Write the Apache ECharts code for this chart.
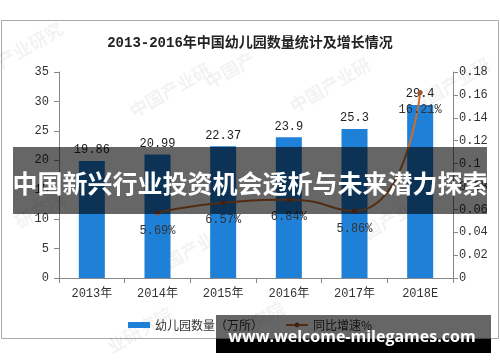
<!DOCTYPE html>
<html><head><meta charset="utf-8">
<script src="https://cdn.jsdelivr.net/npm/echarts@6/dist/echarts.min.js"></script>
<style>html,body{margin:0;padding:0;background:#fff}#c{width:500px;height:362px}</style>
</head><body><div id="c"></div>
<script>
const titleText = '2013-2016年中国幼儿园数量统计及增长情况';
const categories = ['2013年','2014年','2015年','2016年','2017年','2018E'];
const kindergartens = [19.86, 20.99, 22.37, 23.9, 25.3, 29.4];
const growthRate = [null, 0.0569, 0.0657, 0.0684, 0.0586, 0.1621];
const leftTicks = {min:0, max:35, interval:5};
const rightTicks = {min:0, max:0.18, interval:0.02};
const seriesNames = ['幼儿园数量（万所）','同比增速%'];
const bannerText = '中国新兴行业投资机会透析与未来潜力探索';
const footerText = 'www.welcome-milegames.com';
const watermarks = [
  ['产业研究', 30, 45], ['中国产业研', 170, 90], ['中国产业研', 330, 85], ['中国产业研', 450, 85],
  ['研究院', 40, 210], ['中国产业研', 190, 250], ['中国产业', 380, 225], ['业研究院', 140, 330], ['研究院', 260, 320], ['中国产', 230, 70]
];

const mono = "'Liberation Mono','Noto Sans CJK SC',monospace";
const chart = echarts.init(document.getElementById('c'));
const wmEls = watermarks.map(w => ({
  type:'text', x:w[1], y:w[2], rotation: Math.PI/6, z:1, silent:true,
  style:{text:w[0], fill:'rgba(0,0,0,0.05)', font:"bold 18px 'Noto Sans CJK SC'", textAlign:'center', textVerticalAlign:'middle'}
}));
chart.setOption({
  animation:false,
  title:{text:titleText, left:'center', top:31, textStyle:{fontFamily:mono, fontSize:14, fontWeight:'bold', color:'#222'}},
  grid:{left:59, right:47, top:72, bottom:84},
  legend:{data:[{name:seriesNames[0], icon:'rect'}, {name:seriesNames[1]}], left:'center', top:314, itemWidth:22, itemHeight:6, itemGap:22,
    textStyle:{fontFamily:"'Noto Sans CJK SC'", fontSize:12, color:'#333'}},
  xAxis:{type:'category', data:categories,
    axisLine:{lineStyle:{color:'#888'}}, axisTick:{show:true, length:5, lineStyle:{color:'#888'}},
    axisLabel:{fontFamily:mono, fontSize:12, color:'#333', margin:10}},
  yAxis:[
    {type:'value', min:leftTicks.min, max:leftTicks.max, interval:leftTicks.interval, splitLine:{show:false},
     axisLine:{show:true, lineStyle:{color:'#888'}}, axisTick:{show:true, length:5, lineStyle:{color:'#888'}},
     axisLabel:{fontFamily:mono, fontSize:12, color:'#333', margin:10}},
    {type:'value', min:rightTicks.min, max:rightTicks.max, interval:rightTicks.interval, splitLine:{show:false},
     axisLine:{show:true, lineStyle:{color:'#888'}}, axisTick:{show:true, length:5, lineStyle:{color:'#888'}},
     axisLabel:{fontFamily:mono, fontSize:12, color:'#333', margin:6, formatter:v => String(+v.toFixed(2))}}
  ],
  series:[
    {name:seriesNames[0], type:'bar', data:kindergartens, barWidth:26, itemStyle:{color:'#1f80d8'},
     label:{show:true, position:'top', distance:5, fontFamily:mono, fontSize:12, color:'#222'}},
    {name:seriesNames[1], type:'line', yAxisIndex:1, data:growthRate, smooth:0.6, symbol:'circle', symbolSize:5,
     lineStyle:{color:'#cc6d2c', width:2}, itemStyle:{color:'#a0522d'},
     label:{show:true, position:'bottom', distance:9, fontFamily:mono, fontSize:12, color:'#333',
       formatter:p => (p.value*100).toFixed(2)+'%'}}
  ],
  graphic:[
    {type:'rect', shape:{x:1.5, y:20.5, width:497, height:318}, style:{fill:'#fff', stroke:'#aaa', lineWidth:1}, z:-10, silent:true},
    ...wmEls,
    {type:'rect', shape:{x:13, y:147, width:474, height:67}, style:{fill:'rgba(0,0,0,0.6)'}, z:100, silent:true},
    {type:'text', x:250, y:183, z:101, silent:true, style:{text:bannerText, fill:'#fff', font:"bold 25px 'Noto Sans CJK SC'", textAlign:'center', textVerticalAlign:'middle'}},
    {type:'rect', shape:{x:216, y:315, width:275, height:24}, style:{fill:'rgba(0,0,0,0.6)'}, z:100, silent:true},
    {type:'rect', shape:{x:216, y:339, width:275, height:14}, style:{fill:'#000'}, z:100, silent:true},
    {type:'text', x:352, y:337, z:101, silent:true, style:{text:footerText, fill:'#fff', font:"bold 16px 'Open Sans'", textAlign:'center', textVerticalAlign:'middle'}}
  ]
});
</script></body></html>
